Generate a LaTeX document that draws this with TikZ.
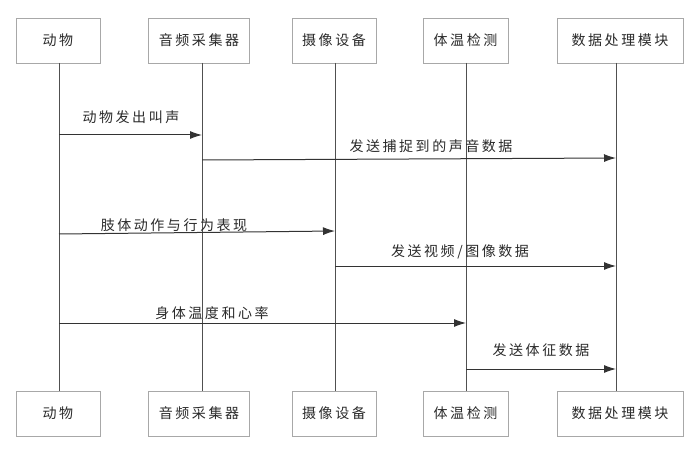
\documentclass[tikz,border=0pt]{standalone}
\usepackage{fontspec}
\newfontfamily\cjk{Noto Sans CJK SC}[LetterSpace=18]
\usetikzlibrary{arrows.meta}
\definecolor{boxline}{HTML}{A8A8A8}
\definecolor{lifeline}{HTML}{505050}
\definecolor{txt}{HTML}{2A2A2A}
\tikzset{
  actor/.style={draw=boxline, line width=0.9pt, fill=white, minimum height=45pt, inner sep=0pt, font=\cjk\fontsize{14}{16}\selectfont, text=txt},
  life/.style={draw=lifeline, line width=1pt},
  msg/.style={draw=black!80, line width=1pt, -{Latex[length=12pt,width=8pt]}},
  lbl/.style={font=\cjk\fontsize{14}{16}\selectfont, text=txt, inner sep=0pt}
}
\begin{document}
\begin{tikzpicture}[x=1pt,y=-1pt]
\useasboundingbox[fill=white] (0,0) rectangle (700,454);
% top actors
\node[actor, minimum width=84pt]  (t1) at (58,40.5)  {动物};
\node[actor, minimum width=101pt] (t2) at (199,40.5) {音频采集器};
\node[actor, minimum width=84pt]  (t3) at (334,40.5) {摄像设备};
\node[actor, minimum width=85pt]  (t4) at (465.5,40.5) {体温检测};
\node[actor, minimum width=126pt] (t5) at (620,40.5) {数据处理模块};
% bottom actors
\node[actor, minimum width=84pt]  (b1) at (58,413.5)  {动物};
\node[actor, minimum width=101pt] (b2) at (199,413.5) {音频采集器};
\node[actor, minimum width=84pt]  (b3) at (334,413.5) {摄像设备};
\node[actor, minimum width=85pt]  (b4) at (465.5,413.5) {体温检测};
\node[actor, minimum width=126pt] (b5) at (620,413.5) {数据处理模块};
% lifelines
\coordinate (l1t) at (59,63);  \coordinate (l1b) at (59,391);
\coordinate (l2t) at (202,63); \coordinate (l2b) at (202,391);
\coordinate (l3t) at (335,63); \coordinate (l3b) at (335,391);
\coordinate (l4t) at (466,63); \coordinate (l4b) at (466,391);
\coordinate (l5t) at (616,63); \coordinate (l5b) at (616,391);
\draw[life] (l1t) -- (l1b);
\draw[life] (l2t) -- (l2b);
\draw[life] (l3t) -- (l3b);
\draw[life] (l4t) -- (l4b);
\draw[life] (l5t) -- (l5b);
% messages
\draw[msg] (l1t |- 0,135) -- (l2t |- 0,135);
\node[lbl] (m1) at (131,117) {动物发出叫声};
\draw[msg] (l2t |- 0,160) -- (l5t |- 0,158);
\node[lbl] (m2) at (431,146) {发送捕捉到的声音数据};
\draw[msg] (l1t |- 0,234) -- (l3t |- 0,231);
\node[lbl] (m3) at (174,225) {肢体动作与行为表现};
\draw[msg] (l3t |- 0,266) -- (l5t |- 0,266);
\node[lbl] (m4) at (460,252) {发送视频/图像数据};
\draw[msg] (l1t |- 0,323) -- (l4t |- 0,323);
\node[lbl] (m5) at (212,313) {身体温度和心率};
\draw[msg] (l4t |- 0,369) -- (l5t |- 0,369);
\node[lbl] (m6) at (541,350) {发送体征数据};
\end{tikzpicture}
\end{document}
